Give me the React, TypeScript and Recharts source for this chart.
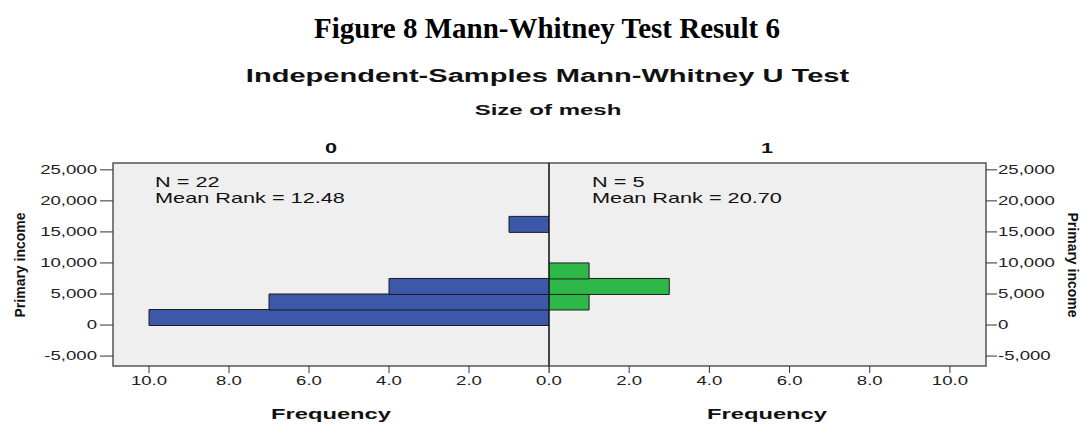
import React from 'react';
import { BarChart, Bar, XAxis, YAxis, CartesianGrid, ReferenceArea, ReferenceLine } from 'recharts';

// Histogram bins of Primary income (lower bound of each bin)
const binStart = [0, 2500, 5000, 7500, 10000, 12500, 15000];
const binWidth = 2500;
// Frequencies per bin, one array per group of "Size of mesh"
const countMesh0 = [10, 7, 4, 0, 0, 0, 1];
const countMesh1 = [0, 1, 3, 1, 0, 0, 0];

const groupLabels = ['0', '1'];
const groupN = [22, 5];
const groupMeanRank = ['12.48', '20.70'];

const incomeTicks = [-5000, 0, 5000, 10000, 15000, 20000, 25000];
const freqTicks = [0, 2, 4, 6, 8, 10];

const incomeDomain: [number, number] = [-6600, 26100];
const freqDomain: [number, number] = [0, 10.9];

const SANS = '"Liberation Sans", Arial, sans-serif';
const STRETCH = 1.55;

const toRows = (counts: number[]) =>
    binStart.map((s, i) => ({ mid: s + binWidth / 2, count: counts[i] }));

const fmtIncome = (v: number) => (v < 0 ? '-' : '') + Math.abs(v).toLocaleString('en-US');

// Tick label drawn horizontally stretched like the SPSS export
const StretchTick = (props: any) => {
    const { x, y, payload, textAnchor, kind, skipZero } = props;
    if (skipZero && payload.value === 0) return null; // shared 0.0 is labelled once
    const label = kind === 'x' ? Number(payload.value).toFixed(1) : fmtIncome(payload.value);
    return (
        <g transform={`translate(${x},${y})`}>
            <text
                transform={`scale(${STRETCH},1)`}
                textAnchor={textAnchor}
                dy={kind === 'x' ? '0.75em' : '0.36em'}
                fontFamily={SANS}
                fontSize={12}
                fill="#222"
            >
                {label}
            </text>
        </g>
    );
};

const SText = ({ x, y, size, bold, anchor = 'middle', sx = STRETCH, rotate = 0, children }: any) => (
    <g transform={`translate(${x},${y}) scale(${sx},1) rotate(${rotate})`}>
        <text
            textAnchor={anchor}
            fontFamily={SANS}
            fontSize={size}
            fontWeight={bold ? 'bold' : 'normal'}
            fill="#111"
        >
            {children}
        </text>
    </g>
);

const App: React.FC = () => {
    const leftRows = toRows(countMesh0);
    const rightRows = toRows(countMesh1);

    return (
        <div style={{ position: 'absolute', left: 0, top: 0, width: 1081, height: 425, background: '#fff' }}>
            {/* group 0: frequency axis runs right to left */}
            <div style={{ position: 'absolute', left: 0, top: 0 }}>
                <BarChart
                    width={600}
                    height={425}
                    data={leftRows}
                    layout="vertical"
                    margin={{ top: 163, right: 51, bottom: 0, left: 0 }}
                    barCategoryGap={0}
                >
                    <CartesianGrid horizontal={false} vertical={false} fill="#efefef" />
                    <XAxis
                        type="number"
                        domain={freqDomain}
                        ticks={freqTicks}
                        interval={0}
                        reversed
                        height={59}
                        axisLine={false}
                        tickSize={7}
                        tickMargin={3}
                        tickLine={{ stroke: '#333' }}
                        tick={<StretchTick kind="x" />}
                        allowDataOverflow
                    />
                    <YAxis
                        type="number"
                        dataKey="mid"
                        domain={incomeDomain}
                        ticks={incomeTicks}
                        interval={0}
                        reversed
                        width={113}
                        axisLine={false}
                        tickSize={13}
                        tickMargin={3}
                        tickLine={{ stroke: '#333' }}
                        tick={<StretchTick kind="y" />}
                        allowDataOverflow
                    />
                    <ReferenceArea x1={freqDomain[0]} x2={freqDomain[1]} y1={incomeDomain[0]} y2={incomeDomain[1]}
                        fill="none" stroke="#555" strokeWidth={1.5} />
                    <Bar dataKey="count" fill="#3d57a9" stroke="#1c1c1c" strokeWidth={1} isAnimationActive={false} />
                    <ReferenceLine x={0} stroke="#111" strokeWidth={1} />
                </BarChart>
            </div>

            {/* group 1 */}
            <div style={{ position: 'absolute', left: 549, top: 0 }}>
                <BarChart
                    width={532}
                    height={425}
                    data={rightRows}
                    layout="vertical"
                    margin={{ top: 163, right: 0, bottom: 0, left: 0 }}
                    barCategoryGap={0}
                >
                    <CartesianGrid horizontal={false} vertical={false} fill="#efefef" />
                    <XAxis
                        type="number"
                        domain={freqDomain}
                        ticks={freqTicks}
                        interval={0}
                        height={59}
                        axisLine={false}
                        tickSize={7}
                        tickMargin={3}
                        tickLine={{ stroke: '#333' }}
                        tick={<StretchTick kind="x" skipZero />}
                        allowDataOverflow
                    />
                    <YAxis
                        type="number"
                        dataKey="mid"
                        orientation="right"
                        domain={incomeDomain}
                        ticks={incomeTicks}
                        interval={0}
                        reversed
                        width={95}
                        axisLine={false}
                        tickSize={11}
                        tickMargin={1}
                        tickLine={{ stroke: '#333' }}
                        tick={<StretchTick kind="y" />}
                        allowDataOverflow
                    />
                    <ReferenceArea x1={freqDomain[0]} x2={freqDomain[1]} y1={incomeDomain[0]} y2={incomeDomain[1]}
                        fill="none" stroke="#555" strokeWidth={1.5} />
                    <Bar dataKey="count" fill="#2fb84a" stroke="#1c1c1c" strokeWidth={1} isAnimationActive={false} />
                    <ReferenceLine x={0} stroke="#111" strokeWidth={1} />
                </BarChart>
            </div>

            {/* titles, group headers and annotations */}
            <svg width={1081} height={425} style={{ position: 'absolute', left: 0, top: 0, pointerEvents: 'none' }}>
                <text x={547} y={38} textAnchor="middle" fontFamily='"Liberation Serif", "Times New Roman", serif'
                    fontSize={29} fontWeight="bold" fill="#000">
                    Figure 8 Mann-Whitney Test Result 6
                </text>
                <SText x={547.5} y={82} size={19} bold sx={1.53}>Independent-Samples Mann-Whitney U Test</SText>
                <SText x={548} y={115} size={15} bold sx={1.6}>Size of mesh</SText>

                <SText x={331} y={153} size={14} bold>{groupLabels[0]}</SText>
                <SText x={767} y={153} size={14} bold>{groupLabels[1]}</SText>

                <SText x={155} y={187} size={14} anchor="start">N = {groupN[0]}</SText>
                <SText x={155} y={203} size={14} anchor="start">Mean Rank = {groupMeanRank[0]}</SText>
                <SText x={592} y={187} size={14} anchor="start">N = {groupN[1]}</SText>
                <SText x={592} y={203} size={14} anchor="start">Mean Rank = {groupMeanRank[1]}</SText>

                <SText x={331} y={419} size={15} bold sx={1.58}>Frequency</SText>
                <SText x={767} y={419} size={15} bold sx={1.58}>Frequency</SText>

                <SText x={25} y={265} size={14} bold sx={1.1} rotate={-90}>Primary income</SText>
                <SText x={1068} y={265} size={14} bold sx={1.1} rotate={90}>Primary income</SText>
            </svg>
        </div>
    );
};

export default App;
